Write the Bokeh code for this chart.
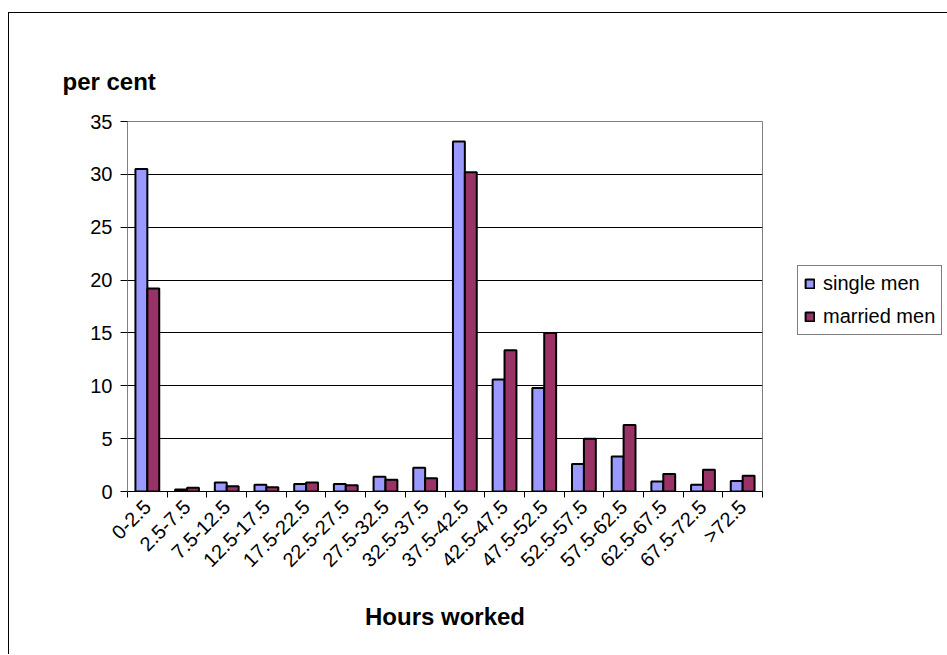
import math
from bokeh.plotting import figure
from bokeh.models import Range1d, FixedTicker, Legend, LegendItem, ColumnDataSource, Title
from bokeh.embed import file_html
from bokeh.resources import INLINE

categories = ["0-2.5", "2.5-7.5", "7.5-12.5", "12.5-17.5", "17.5-22.5", "22.5-27.5",
              "27.5-32.5", "32.5-37.5", "37.5-42.5", "42.5-47.5", "47.5-52.5",
              "52.5-57.5", "57.5-62.5", "62.5-67.5", "67.5-72.5", ">72.5"]
single_men = [30.5, 0.2, 0.85, 0.65, 0.7, 0.7, 1.4, 2.25, 33.1, 10.6, 9.8, 2.6, 3.3, 0.95, 0.65, 1.0]
married_men = [19.2, 0.35, 0.5, 0.4, 0.85, 0.6, 1.1, 1.25, 30.2, 13.35, 15.0, 5.0, 6.3, 1.65, 2.05, 1.5]
y_ticks = [0, 5, 10, 15, 20, 25, 30, 35]

FONT = "Liberation Sans"
n = len(categories)
idx = list(range(n))
off = 0.15
bw = 0.3

src = ColumnDataSource(dict(
    xs=[i - off for i in idx],
    xm=[i + off for i in idx],
    single=single_men,
    married=married_men,
))

p = figure(frame_width=635, frame_height=370,
           min_border_left=118, min_border_top=108,
           min_border_right=184, min_border_bottom=163,
           x_range=Range1d(-0.5, n - 0.5), y_range=Range1d(0, 35),
           output_backend="svg", toolbar_location=None)
p.styles = {"border-left": "1px solid black", "border-top": "1px solid black",
            "margin": "12px 0px 0px 8px"}
p.background_fill_color = "white"
p.border_fill_color = "white"
p.outline_line_color = "#808080"
p.outline_line_width = 1

r1 = p.vbar(x="xs", top="single", width=bw, source=src,
            fill_color="#9999FF", line_color="black", line_width=2)
r2 = p.vbar(x="xm", top="married", width=bw, source=src,
            fill_color="#993366", line_color="black", line_width=2)

# y axis
p.yaxis.ticker = FixedTicker(ticks=y_ticks)
p.yaxis.axis_line_color = "#808080"
p.yaxis.major_tick_line_color = "black"
p.yaxis.major_tick_in = 0
p.yaxis.major_tick_out = 7
p.yaxis.minor_tick_line_color = None
p.yaxis.major_label_standoff = 8
p.yaxis.major_label_text_font = FONT
p.yaxis.major_label_text_font_size = "20px"
p.yaxis.major_label_text_color = "black"

p.ygrid.ticker = FixedTicker(ticks=y_ticks[1:-1])
p.ygrid.grid_line_color = "black"
p.ygrid.grid_line_width = 1
p.xgrid.grid_line_color = None

# x axis
p.xaxis.ticker = FixedTicker(ticks=idx, minor_ticks=[i - 0.5 for i in range(n + 1)])
p.xaxis.major_label_overrides = {i: c for i, c in enumerate(categories)}
p.xaxis.major_tick_line_color = None
p.xaxis.major_tick_in = 0
p.xaxis.major_tick_out = 6
p.xaxis.minor_tick_line_color = "black"
p.xaxis.minor_tick_in = 0
p.xaxis.minor_tick_out = 6
p.xaxis.axis_line_color = "black"
p.xaxis.major_label_orientation = math.pi / 4
p.xaxis.major_label_standoff = 6
p.xaxis.major_label_text_font = FONT
p.xaxis.major_label_text_font_size = "20px"
p.xaxis.major_label_text_color = "black"
p.xaxis.axis_label = "Hours worked"
p.xaxis.axis_label_text_font = FONT
p.xaxis.axis_label_text_font_size = "24px"
p.xaxis.axis_label_text_font_style = "bold"
p.xaxis.axis_label_text_color = "black"
p.xaxis.axis_label_standoff = 21

title = Title(text="per cent", align="left", offset=-65, standoff=54,
              text_font=FONT, text_font_size="24px", text_font_style="bold",
              text_color="black")
p.add_layout(title, "above")

legend = Legend(items=[LegendItem(label="single men", renderers=[r1]),
                       LegendItem(label="married men", renderers=[r2])],
                location=(35, 156))
legend.border_line_color = "black"
legend.border_line_width = 1
legend.background_fill_color = "white"
legend.background_fill_alpha = 1
legend.padding = 6
legend.spacing = 10
legend.margin = 0
legend.glyph_width = 11
legend.glyph_height = 11
legend.label_standoff = 8
legend.label_height = 23
legend.label_text_font = FONT
legend.label_text_font_size = "20px"
legend.label_text_color = "black"
legend.label_text_baseline = "middle"
p.add_layout(legend, "right")

open("out.html", "w").write(file_html(p, INLINE))
